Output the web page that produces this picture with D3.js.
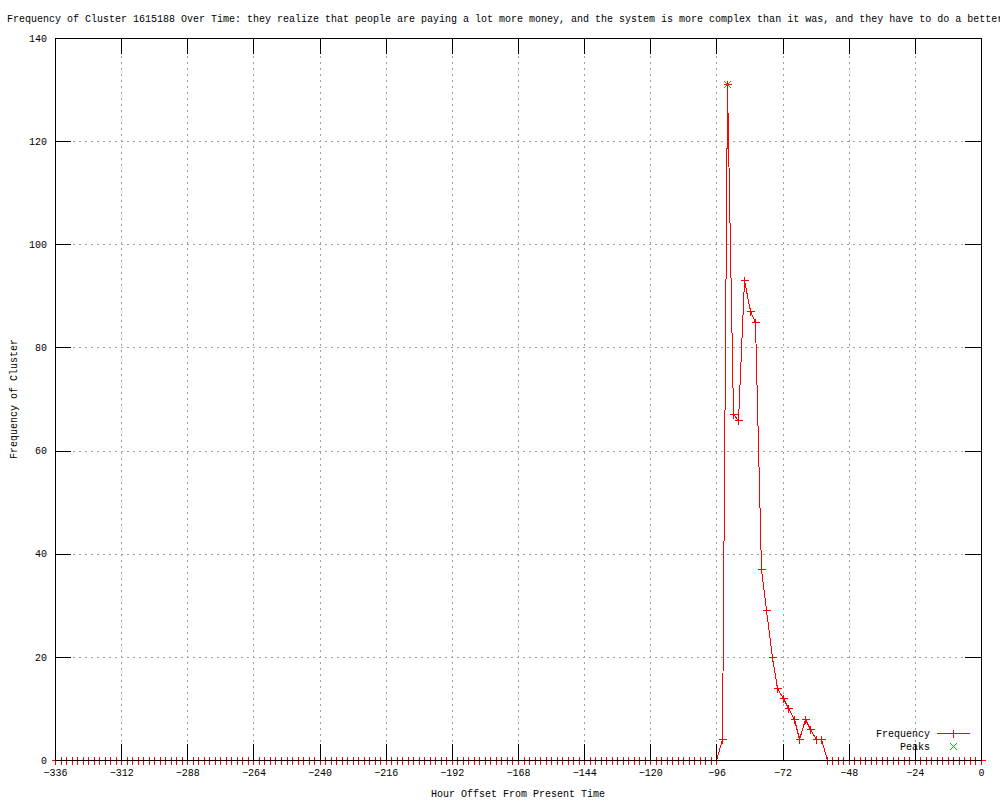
<!DOCTYPE html>
<html>
<head>
<meta charset="utf-8">
<script src="https://cdn.jsdelivr.net/npm/d3@7"></script>
<style>
  body { margin: 0; background: #fff; }
  svg text { font-family: "Liberation Mono", "DejaVu Sans Mono", monospace; font-size: 10px; fill: #000; }
</style>
</head>
<body>
<div id="chart"></div>
<script>
// hour offsets, one sample every 2 hours from -336 to 0
let hours = d3.range(-336, 1, 2);

// frequency for each hour (169 samples)
let frequency = [
  0, 0, 0, 0, 0, 0, 0, 0, 0, 0, 0, 0,      // -336 .. -314
  0, 0, 0, 0, 0, 0, 0, 0, 0, 0, 0, 0,      // -312 .. -290
  0, 0, 0, 0, 0, 0, 0, 0, 0, 0, 0, 0,      // -288 .. -266
  0, 0, 0, 0, 0, 0, 0, 0, 0, 0, 0, 0,      // -264 .. -242
  0, 0, 0, 0, 0, 0, 0, 0, 0, 0, 0, 0,      // -240 .. -218
  0, 0, 0, 0, 0, 0, 0, 0, 0, 0, 0, 0,      // -216 .. -194
  0, 0, 0, 0, 0, 0, 0, 0, 0, 0, 0, 0,      // -192 .. -170
  0, 0, 0, 0, 0, 0, 0, 0, 0, 0, 0, 0,      // -168 .. -146
  0, 0, 0, 0, 0, 0, 0, 0, 0, 0, 0, 0,      // -144 .. -122
  0, 0, 0, 0, 0, 0, 0, 0, 0, 0, 0, 0,      // -120 .. -98
  0, 4, 131, 67, 66, 93, 87, 85, 37, 29, 20, 14,   // -96 .. -74
  12, 10, 8, 4, 8, 6, 4, 4, 0, 0, 0, 0,    // -72 .. -50
  0, 0, 0, 0, 0, 0, 0, 0, 0, 0, 0, 0,      // -48 .. -26
  0, 0, 0, 0, 0, 0, 0, 0, 0, 0, 0, 0,      // -24 .. -2
  0                                         // 0
];

let peakHours = [-92];
let peakValues = [131];

let xTicks = [-336, -312, -288, -264, -240, -216, -192, -168, -144, -120, -96, -72, -48, -24, 0];
let yTicks = [0, 20, 40, 60, 80, 100, 120, 140];

let titleText = "Frequency of Cluster 1615188 Over Time: they realize that people are paying a lot more money, and the system is more complex than it was, and they have to do a better";

let w = 1000;
let h = 800;
let m = {top: 38, right: 19, bottom: 40, left: 55};

let svg = d3.select("#chart")
  .append("svg")
  .attr("width", w)
  .attr("height", h);

let x = d3.scaleLinear().domain([-336, 0]).range([m.left, w - m.right]);
let y = d3.scaleLinear().domain([0, 140]).range([h - m.bottom, m.top]);

let x0 = x.range()[0], x1 = x.range()[1];
let y0 = y.range()[0], y1 = y.range()[1];

// grid
let grid = svg.append("g")
  .attr("stroke", "#a0a0a0")
  .attr("stroke-dasharray", "2,4")
  .attr("shape-rendering", "crispEdges");

grid.selectAll(".gx")
  .data(xTicks.slice(1, -1))
  .enter()
  .append("line")
  .attr("x1", (d) => Math.round(x(d)) + 0.5)
  .attr("x2", (d) => Math.round(x(d)) + 0.5)
  .attr("y1", y1)
  .attr("y2", y0);

grid.selectAll(".gy")
  .data(yTicks.slice(1, -1))
  .enter()
  .append("line")
  .attr("y1", (d) => Math.round(y(d)) + 0.5)
  .attr("y2", (d) => Math.round(y(d)) + 0.5)
  .attr("x1", x0)
  .attr("x2", x1);

// data
let points = hours.map((d, i) => ({hour: d, value: frequency[i]}));

let line = d3.line()
  .x((d) => Math.round(x(d.hour)) + 0.5)
  .y((d) => Math.round(y(d.value)) + 0.5);

svg.append("path")
  .datum(points)
  .attr("fill", "none")
  .style("stroke", "#ff0000")
  .attr("stroke-width", 1)
  .attr("shape-rendering", "crispEdges")
  .attr("d", line);

let plus = "M-4,0H4M0,-4V4";
let cross = "M-3.5,-3.5L3.5,3.5M-3.5,3.5L3.5,-3.5";

svg.append("g")
  .selectAll("path")
  .data(points)
  .enter()
  .append("path")
  .attr("d", plus)
  .attr("fill", "none")
  .style("stroke", "#ff0000")
  .attr("shape-rendering", "crispEdges")
  .attr("transform", (d) => "translate(" + (Math.round(x(d.hour)) + 0.5) + "," + (Math.round(y(d.value)) + 0.5) + ")");

svg.append("g")
  .selectAll("path")
  .data(peakHours)
  .enter()
  .append("path")
  .attr("d", cross)
  .attr("fill", "none")
  .style("stroke", "#00c000")
  .attr("shape-rendering", "crispEdges")
  .attr("transform", (d, i) => "translate(" + (Math.round(x(d)) + 0.5) + "," + (Math.round(y(peakValues[i])) + 0.5) + ")");

// axes with inward ticks on all four sides
let tick = 16;

let axBottom = svg.append("g")
  .attr("transform", "translate(0," + y0 + ")")
  .call(d3.axisBottom(x).tickValues(xTicks).tickSize(-tick).tickFormat(d3.format("d")));

let axTop = svg.append("g")
  .attr("transform", "translate(0," + y1 + ")")
  .call(d3.axisTop(x).tickValues(xTicks).tickSize(-tick).tickFormat(""));

let axLeft = svg.append("g")
  .attr("transform", "translate(" + x0 + ",0)")
  .call(d3.axisLeft(y).tickValues(yTicks).tickSize(-tick).tickFormat(d3.format("d")));

let axRight = svg.append("g")
  .attr("transform", "translate(" + x1 + ",0)")
  .call(d3.axisRight(y).tickValues(yTicks).tickSize(-tick).tickFormat(""));

[axBottom, axTop, axLeft, axRight].forEach((g) => {
  g.selectAll(".domain").remove();
  g.selectAll("line").attr("stroke", "#000").attr("shape-rendering", "crispEdges");
  g.selectAll("text").attr("font-family", null).attr("font-size", null).attr("fill", "#000");
});

axBottom.selectAll("text").attr("y", 9).attr("dy", "0.71em");
axLeft.selectAll("text").attr("x", -8);

// border
svg.append("rect")
  .attr("x", x0 + 0.5)
  .attr("y", y1 + 0.5)
  .attr("width", x1 - x0)
  .attr("height", y0 - y1)
  .attr("fill", "none")
  .attr("stroke", "#000")
  .attr("shape-rendering", "crispEdges");

// title and axis labels
svg.append("text")
  .attr("x", 7)
  .attr("y", 22)
  .text(titleText);

svg.append("text")
  .attr("x", (x0 + x1) / 2)
  .attr("y", 797)
  .attr("text-anchor", "middle")
  .text("Hour Offset From Present Time");

svg.append("text")
  .attr("transform", "translate(17," + ((y0 + y1) / 2) + ") rotate(-90)")
  .attr("text-anchor", "middle")
  .text("Frequency of Cluster");

// legend
let legend = svg.append("g");

legend.append("text")
  .attr("x", 930)
  .attr("y", 737)
  .attr("text-anchor", "end")
  .text("Frequency");

legend.append("line")
  .attr("x1", 937).attr("x2", 970)
  .attr("y1", 733.5).attr("y2", 733.5)
  .style("stroke", "#ff0000")
  .attr("shape-rendering", "crispEdges");

legend.append("path")
  .attr("d", plus)
  .attr("fill", "none")
  .style("stroke", "#ff0000")
  .attr("shape-rendering", "crispEdges")
  .attr("transform", "translate(953.5,733.5)");

legend.append("text")
  .attr("x", 930)
  .attr("y", 750)
  .attr("text-anchor", "end")
  .text("Peaks");

legend.append("path")
  .attr("d", cross)
  .attr("fill", "none")
  .style("stroke", "#00c000")
  .attr("shape-rendering", "crispEdges")
  .attr("transform", "translate(953.5,746.5)");
</script>
</body>
</html>
